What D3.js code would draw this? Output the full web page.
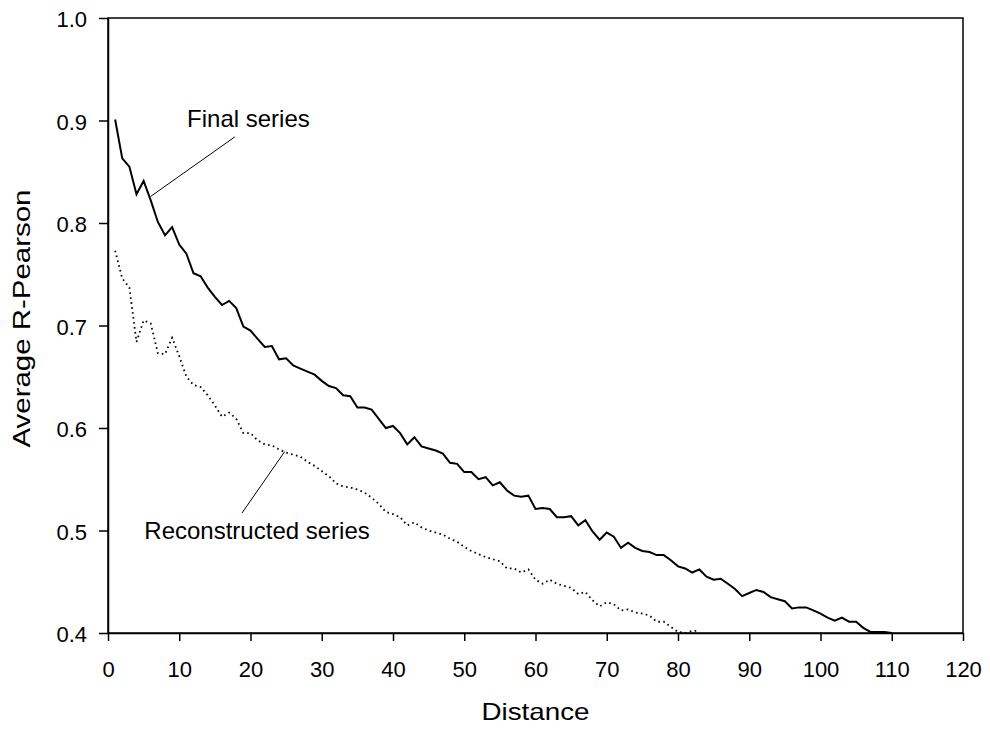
<html>
<head>
    <title>Average R-Pearson vs distance</title>
    <style>
        body {
            margin: 0;
            background-color: #fff;
        }

        .axis text {
            font-family: Arial, "Liberation Sans", sans-serif;
            font-size: 22px;
            fill: #000;
        }

        .axis path,
        .axis line {
            stroke: #000;
            stroke-width: 1.5px;
        }

        .title {
            font-family: Arial, "Liberation Sans", sans-serif;
            font-size: 24px;
        }

        .note {
            font-family: Arial, "Liberation Sans", sans-serif;
            font-size: 24px;
        }

        .final {
            fill: none;
            stroke: #000;
            stroke-width: 2px;
        }

        .recon {
            fill: none;
            stroke: #000;
            stroke-width: 1.8px;
            stroke-dasharray: 1.6, 3.4;
        }
    </style>
</head>

<body>
    <div id="container"></div>
    <script src="https://d3js.org/d3.v7.min.js"></script>
    <script>
        // values, distance = 1, 2, 3 ...
        let finalSeries = [
            0.901, 0.863, 0.855, 0.828, 0.841, 0.822, 0.801, 0.788, 0.796, 0.779,
            0.770, 0.751, 0.748, 0.737, 0.728, 0.720, 0.724, 0.717, 0.699, 0.695,
            0.687, 0.679, 0.680, 0.667, 0.668, 0.661, 0.658, 0.655, 0.652, 0.646,
            0.641, 0.639, 0.632, 0.631, 0.620, 0.620, 0.618, 0.609, 0.600, 0.602,
            0.595, 0.584, 0.591, 0.582, 0.580, 0.578, 0.575, 0.566, 0.565, 0.557,
            0.557, 0.550, 0.552, 0.544, 0.547, 0.539, 0.534, 0.533, 0.534, 0.521,
            0.522, 0.521, 0.513, 0.513, 0.514, 0.505, 0.510, 0.499, 0.491, 0.498,
            0.494, 0.483, 0.488, 0.483, 0.480, 0.479, 0.476, 0.476, 0.471, 0.465,
            0.463, 0.459, 0.462, 0.455, 0.452, 0.453, 0.448, 0.443, 0.436, 0.439,
            0.442, 0.440, 0.435, 0.433, 0.431, 0.424, 0.425, 0.425, 0.422, 0.419,
            0.415, 0.412, 0.415, 0.411, 0.411, 0.405, 0.401, 0.401, 0.401, 0.400
        ];

        let reconSeries = [
            0.773, 0.746, 0.737, 0.684, 0.705, 0.702, 0.673, 0.672, 0.688, 0.670,
            0.650, 0.642, 0.640, 0.632, 0.622, 0.611, 0.615, 0.609, 0.595, 0.595,
            0.588, 0.584, 0.583, 0.579, 0.576, 0.574, 0.572, 0.567, 0.563, 0.558,
            0.553, 0.546, 0.543, 0.542, 0.540, 0.537, 0.532, 0.526, 0.518, 0.516,
            0.513, 0.505, 0.508, 0.503, 0.500, 0.498, 0.496, 0.492, 0.489, 0.484,
            0.480, 0.477, 0.474, 0.472, 0.470, 0.463, 0.463, 0.459, 0.462, 0.452,
            0.448, 0.452, 0.448, 0.446, 0.444, 0.438, 0.440, 0.432, 0.426, 0.430,
            0.428, 0.422, 0.423, 0.420, 0.419, 0.417, 0.411, 0.411, 0.406, 0.401,
            0.400, 0.402, 0.402
        ];

        let xTicks = [0, 10, 20, 30, 40, 50, 60, 70, 80, 90, 100, 110, 120];
        let yTicks = [0.4, 0.5, 0.6, 0.7, 0.8, 0.9, 1.0];

        // labels with their leader lines, in data units
        let noteNames = ['Final series', 'Reconstructed series'];
        let noteText = [[11.1, 0.894], [5.1, 0.492]];
        let noteFrom = [[17.8, 0.884], [24.8, 0.577]];
        let noteTo = [[6.0, 0.826], [18.8, 0.517]];

        let width = 990,
            height = 731,
            margin = { left: 108, right: 27, top: 18, bottom: 98 };

        let svg = d3.select('#container')
            .append('svg')
            .attr('width', width)
            .attr('height', height);

        let g = svg.append('g')
            .attr('transform', 'translate(' + margin.left + ',' + margin.top + ')');

        let w = width - margin.left - margin.right,
            h = height - margin.top - margin.bottom;

        let x = d3.scaleLinear().domain([0, 120]).range([0, w]),
            y = d3.scaleLinear().domain([0.4, 1.0]).range([h, 0]);

        // frame
        g.append('rect')
            .attr('width', w)
            .attr('height', h)
            .attr('fill', 'none')
            .attr('stroke', '#000')
            .attr('stroke-width', 1.5);

        g.append('g')
            .attr('class', 'axis axis--x')
            .attr('transform', 'translate(0,' + h + ')')
            .call(d3.axisBottom(x).tickValues(xTicks).tickFormat(d3.format('d'))
                .tickSizeInner(8).tickSizeOuter(0).tickPadding(20));

        g.append('g')
            .attr('class', 'axis axis--y')
            .call(d3.axisLeft(y).tickValues(yTicks).tickFormat(d3.format('.1f'))
                .tickSizeInner(9).tickSizeOuter(0).tickPadding(12))
            .selectAll('text')
            .attr('dy', '0.4em');

        // axis titles, a little stretched like the original
        g.append('text')
            .attr('class', 'title')
            .attr('text-anchor', 'middle')
            .attr('x', w / 2)
            .attr('y', h + 87)
            .attr('textLength', 108)
            .attr('lengthAdjust', 'spacingAndGlyphs')
            .text('Distance');

        g.append('text')
            .attr('class', 'title')
            .attr('text-anchor', 'middle')
            .attr('transform', 'translate(' + (30 - margin.left) + ',' + (y(0.7) - 7) + ') rotate(-90)')
            .attr('textLength', 258)
            .attr('lengthAdjust', 'spacingAndGlyphs')
            .text('Average R-Pearson');

        let line = d3.line()
            .x(function (d, i) { return x(i + 1); })
            .y(function (d) { return y(d); });

        g.append('path')
            .datum(reconSeries)
            .attr('class', 'recon')
            .attr('d', line);

        g.append('path')
            .datum(finalSeries)
            .attr('class', 'final')
            .attr('d', line);

        // annotations
        g.selectAll('.leader')
            .data(noteNames)
            .enter().append('line')
            .attr('class', 'leader')
            .attr('x1', function (d, i) { return x(noteFrom[i][0]); })
            .attr('y1', function (d, i) { return y(noteFrom[i][1]); })
            .attr('x2', function (d, i) { return x(noteTo[i][0]); })
            .attr('y2', function (d, i) { return y(noteTo[i][1]); })
            .attr('stroke', '#000')
            .attr('stroke-width', 1);

        g.selectAll('.note')
            .data(noteNames)
            .enter().append('text')
            .attr('class', 'note')
            .attr('x', function (d, i) { return x(noteText[i][0]); })
            .attr('y', function (d, i) { return y(noteText[i][1]); })
            .text(function (d) { return d; });
    </script>
</body>

</html>
